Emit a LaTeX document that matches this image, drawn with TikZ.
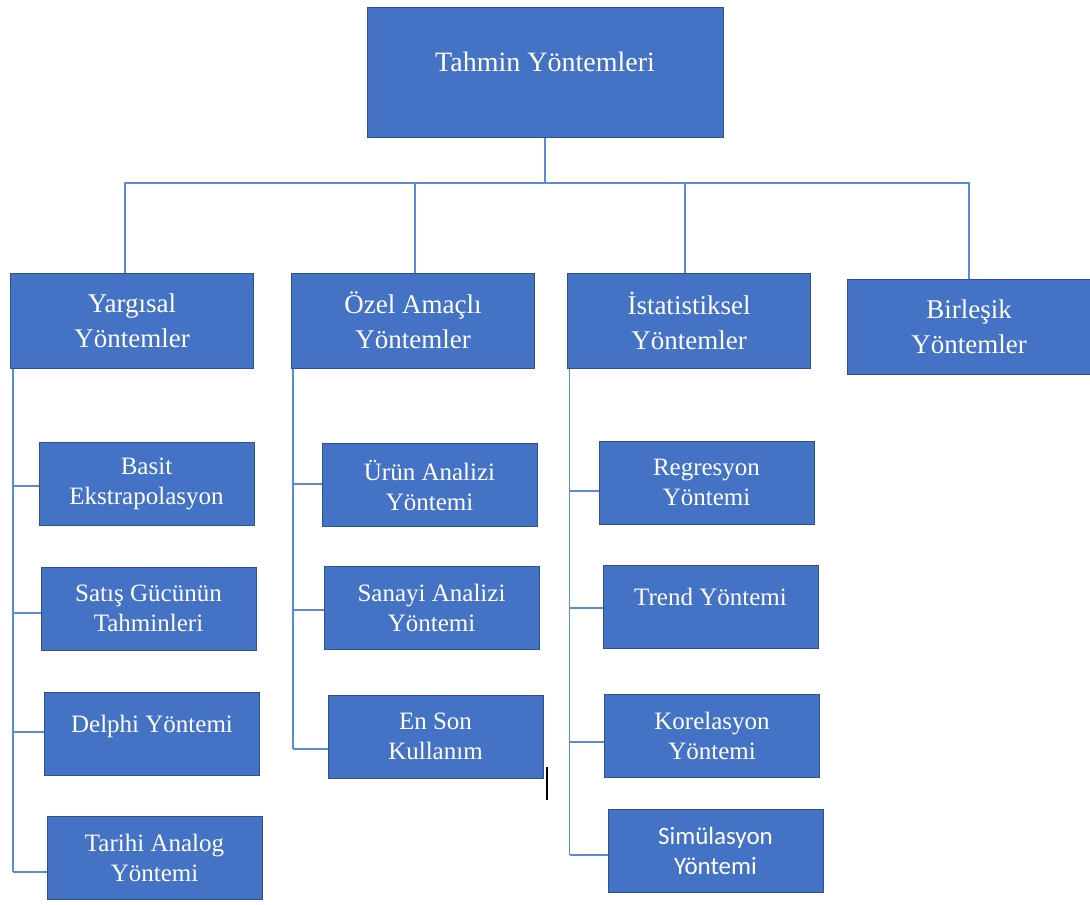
\documentclass[tikz,border=0pt]{standalone}
\usepackage{fontspec}
\setmainfont{Liberation Serif}
\newfontfamily\calibri{Carlito}
\usetikzlibrary{positioning}

\definecolor{boxblue}{HTML}{4472C4}
\definecolor{boxedge}{HTML}{2F528F}
\definecolor{linkblue}{HTML}{5B8AD6}

\tikzset{
  anybox/.style={draw=boxedge, fill=boxblue, text=white, line width=1pt,
    align=center, inner sep=0pt},
  topbox/.style={anybox, minimum width=356pt, minimum height=130pt,
    font=\fontsize{28}{35}\selectfont},
  groupbox/.style={anybox, minimum width=243pt, minimum height=95pt,
    font=\fontsize{27}{35}\selectfont},
  methodbox/.style={anybox, minimum width=215pt, minimum height=83pt,
    font=\fontsize{25}{30}\selectfont},
  link/.style={draw=linkblue, line width=1.4pt}
}

\begin{document}
\begin{tikzpicture}[x=1pt,y=-1pt]
            \useasboundingbox (0,0) rectangle (1090,905);

            % top box and the four groups
            \node[topbox, text depth=20pt] (root) at (545,72) {Tahmin Yöntemleri};
            \coordinate (bus) at (545,183);

            \node[groupbox] (yarg) at (132,320.5) {Yargısal\\Yöntemler};
            \node[groupbox] (ozel) at (413,320.5) {Özel Amaçlı\\Yöntemler};
            \node[groupbox] (ista) at (689,320.5) {İstatistiksel\\Yöntemler};
            \node[groupbox] (birl) at (969,327) {Birleşik\\Yöntemler};

            \draw[link] (root) -- (bus);
            \draw[link] ([xshift=-7pt]yarg.north) |- (bus);
            \draw[link] ([xshift=2pt]ozel.north) |- (bus);
            \draw[link] ([xshift=-4pt]ista.north) |- (bus);
            \draw[link] (birl.north) |- (bus);

            % methods
            \node[methodbox] (basit) at (146.5,484) {Basit\\Ekstrapolasyon};
            \node[methodbox] (satis) at (148.5,608.5) {Satış Gücünün\\Tahminleri};
            \node[methodbox, text depth=20pt] (delphi) at (152,733.5) {Delphi Yöntemi};
            \node[methodbox] (tarihi) at (154.5,858) {Tarihi Analog\\Yöntemi};

            \node[methodbox] (urun) at (429.5,485) {Ürün Analizi\\Yöntemi};
            \node[methodbox] (sanayi) at (431.5,607.5) {Sanayi Analizi\\Yöntemi};
            \node[methodbox] (enson) at (435.5,736.5) {En Son\\Kullanım};

            \node[methodbox] (regr) at (706.5,482.5) {Regresyon\\Yöntemi};
            \node[methodbox, text depth=20pt] (trend) at (710.5,607) {Trend Yöntemi};
            \node[methodbox] (korel) at (712,735.5) {Korelasyon\\Yöntemi};
            \node[methodbox, font=\calibri\fontsize{25}{30}\selectfont] (simul) at (715.5,850.5) {Simülasyon\\Yöntemi};

            % spines
            \coordinate (yspine) at ([xshift=3pt]yarg.south west);
            \coordinate (ospine) at ([xshift=2pt]ozel.south west);
            \coordinate (ispine) at ([xshift=2.5pt]ista.south west);

            \foreach \kid/\dy in {basit/-2, satis/-4.5, delphi/1.5, tarihi/-14} {
                \coordinate (\kid-in) at ([yshift=\dy pt]\kid.west);
                \draw[link] (\kid-in -| yspine) -- (\kid-in);
            }
            \foreach \kid/\dy in {urun/1, sanayi/-2.5, enson/-12.5} {
                \coordinate (\kid-in) at ([yshift=\dy pt]\kid.west);
                \draw[link] (\kid-in -| ospine) -- (\kid-in);
            }
            \foreach \kid/\dy in {regr/-8.5, trend/-1, korel/-6.5, simul/-4.5} {
                \coordinate (\kid-in) at ([yshift=\dy pt]\kid.west);
                \draw[link] (\kid-in -| ispine) -- (\kid-in);
            }
            \draw[link] (yspine) -- (tarihi-in -| yspine);
            \draw[link] (ospine) -- (enson-in -| ospine);
            \draw[link] (ispine) -- (simul-in -| ispine);

            % stray cursor mark
            \draw[black, line width=1.5pt] (547,767) -- (547,800);
\end{tikzpicture}
\end{document}
